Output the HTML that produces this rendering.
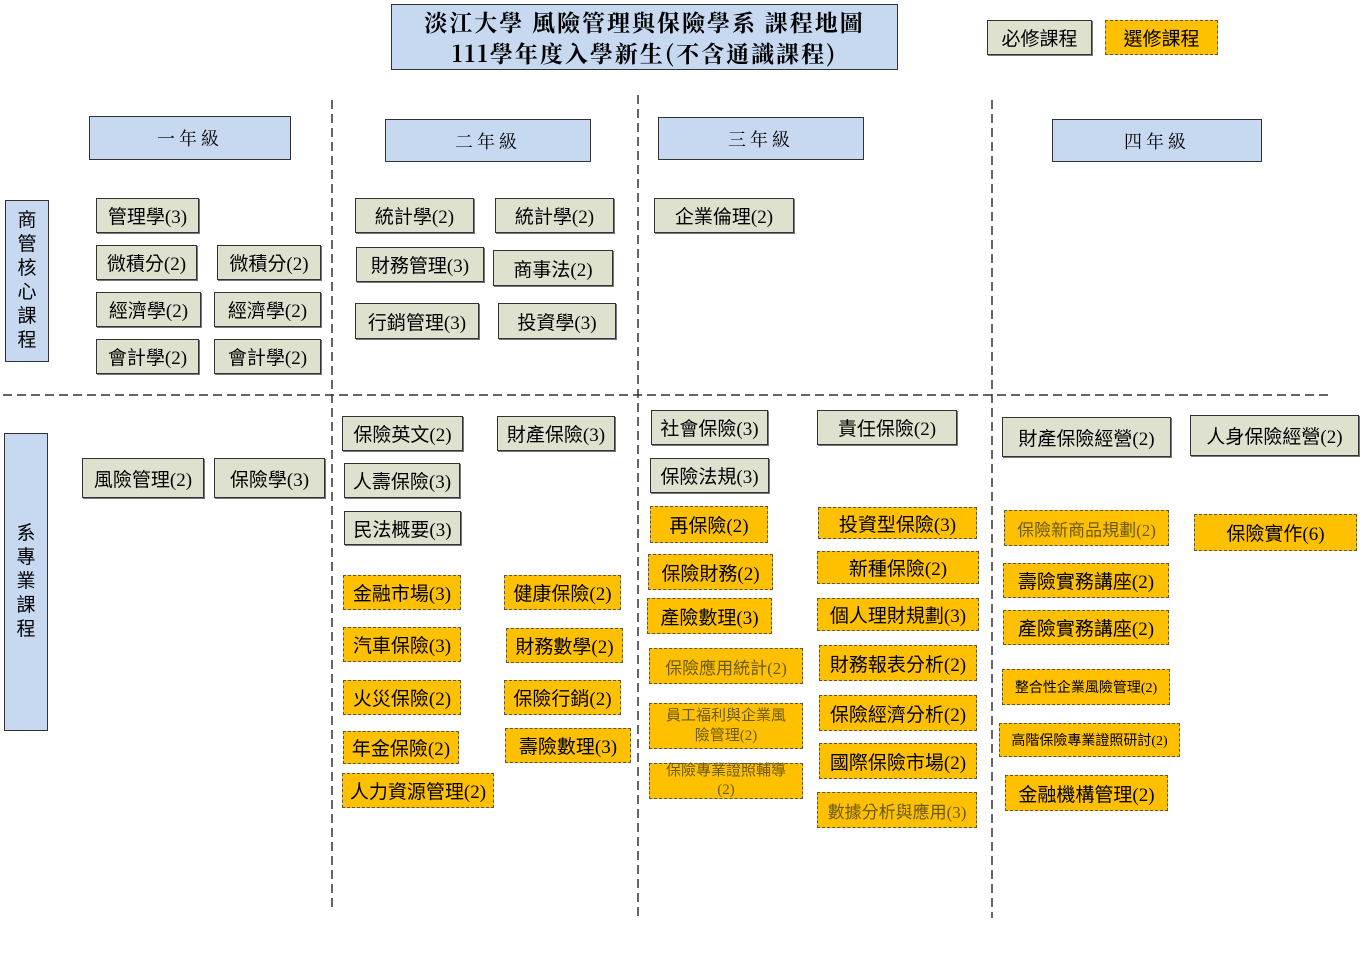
<!DOCTYPE html>
<html><head><meta charset="utf-8"><style>
body{margin:0;width:1362px;height:980px;background:#fff;position:relative;overflow:hidden;font-family:"Liberation Serif","Noto Sans CJK TC",serif;}
div{position:absolute;box-sizing:border-box;display:flex;align-items:center;justify-content:center;text-align:center;color:#000;white-space:nowrap;}
.r{background:#dfe1cf;border:1px solid #333;box-shadow:1px 1px 0 #777;font-size:19px;}
.e{background:#ffc000;border:1.5px dashed #555;font-size:19px;}
.m{color:#6b5a10;}
.h{background:#c6d9f1;border:1px solid #333;font-size:18px;letter-spacing:4px;font-family:"Noto Serif CJK SC","Liberation Serif",serif;}
.side{background:#c6d9f1;border:1px solid #333;white-space:normal;font-size:19px;line-height:24px;width:44px;padding:0 12px;}
svg{position:absolute;left:0;top:0;}
</style></head><body>
<svg width="1362" height="980"><g stroke="#333" stroke-width="1.5" stroke-dasharray="9,5" fill="none">
<line x1="332" y1="100" x2="332" y2="912"/>
<line x1="638" y1="95" x2="638" y2="918"/>
<line x1="992" y1="100" x2="992" y2="918"/>
<line x1="3" y1="395" x2="1330" y2="395"/>
</g></svg>
<div class="h" style="left:391px;top:4px;width:507px;height:66px;flex-direction:column;font-weight:bold;font-size:23px;letter-spacing:2px;line-height:31px;"><span>淡江大學 風險管理與保險學系 課程地圖</span><span>111學年度入學新生(不含通識課程)</span></div>
<div class="r" style="left:987px;top:20px;width:105px;height:35px;">必修課程</div>
<div class="e" style="left:1105px;top:20px;width:113px;height:35px;">選修課程</div>

<div class="h" style="left:89px;top:116px;width:202px;height:44px;">一年級</div>
<div class="h" style="left:385px;top:119px;width:206px;height:43px;">二年級</div>
<div class="h" style="left:658px;top:117px;width:206px;height:43px;">三年級</div>
<div class="h" style="left:1052px;top:119px;width:210px;height:43px;">四年級</div>

<div class="side" style="left:5px;top:200px;height:162px;">商管核心課程</div>
<div class="side" style="left:4px;top:433px;height:298px;">系專業課程</div>

<div class="r" style="left:96px;top:198px;width:103px;height:35px;">管理學(3)</div>
<div class="r" style="left:96px;top:245px;width:101px;height:35px;">微積分(2)</div>
<div class="r" style="left:217px;top:245px;width:104px;height:35px;">微積分(2)</div>
<div class="r" style="left:96px;top:292px;width:105px;height:35px;">經濟學(2)</div>
<div class="r" style="left:214px;top:292px;width:107px;height:35px;">經濟學(2)</div>
<div class="r" style="left:96px;top:339px;width:103px;height:35px;">會計學(2)</div>
<div class="r" style="left:214px;top:339px;width:107px;height:35px;">會計學(2)</div>
<div class="r" style="left:355px;top:198px;width:119px;height:35px;">統計學(2)</div>
<div class="r" style="left:495px;top:198px;width:119px;height:35px;">統計學(2)</div>
<div class="r" style="left:356px;top:247px;width:128px;height:35px;">財務管理(3)</div>
<div class="r" style="left:493px;top:250px;width:120px;height:36px;">商事法(2)</div>
<div class="r" style="left:355px;top:303px;width:124px;height:36px;">行銷管理(3)</div>
<div class="r" style="left:498px;top:303px;width:118px;height:36px;">投資學(3)</div>
<div class="r" style="left:654px;top:198px;width:140px;height:35px;">企業倫理(2)</div>

<div class="r" style="left:82px;top:458px;width:122px;height:40px;">風險管理(2)</div>
<div class="r" style="left:214px;top:458px;width:111px;height:40px;">保險學(3)</div>
<div class="r" style="left:342px;top:416px;width:121px;height:35px;">保險英文(2)</div>
<div class="r" style="left:497px;top:416px;width:118px;height:35px;">財產保險(3)</div>
<div class="r" style="left:344px;top:463px;width:116px;height:35px;">人壽保險(3)</div>
<div class="r" style="left:344px;top:511px;width:117px;height:34px;">民法概要(3)</div>
<div class="r" style="left:651px;top:410px;width:117px;height:35px;">社會保險(3)</div>
<div class="r" style="left:817px;top:410px;width:140px;height:35px;">責任保險(2)</div>
<div class="r" style="left:650px;top:458px;width:119px;height:35px;">保險法規(3)</div>
<div class="r" style="left:1002px;top:417px;width:169px;height:40px;">財產保險經營(2)</div>
<div class="r" style="left:1190px;top:415px;width:169px;height:41px;">人身保險經營(2)</div>

<div class="e" style="left:343px;top:575px;width:118px;height:35px;">金融市場(3)</div>
<div class="e" style="left:504px;top:575px;width:117px;height:35px;">健康保險(2)</div>
<div class="e" style="left:343px;top:627px;width:118px;height:35px;">汽車保險(3)</div>
<div class="e" style="left:506px;top:628px;width:117px;height:35px;">財務數學(2)</div>
<div class="e" style="left:343px;top:680px;width:118px;height:35px;">火災保險(2)</div>
<div class="e" style="left:504px;top:680px;width:117px;height:35px;">保險行銷(2)</div>
<div class="e" style="left:343px;top:731px;width:116px;height:33px;">年金保險(2)</div>
<div class="e" style="left:505px;top:728px;width:126px;height:35px;">壽險數理(3)</div>
<div class="e" style="left:342px;top:773px;width:152px;height:35px;">人力資源管理(2)</div>

<div class="e" style="left:650px;top:506px;width:118px;height:37px;">再保險(2)</div>
<div class="e" style="left:648px;top:554px;width:125px;height:36px;">保險財務(2)</div>
<div class="e" style="left:647px;top:598px;width:125px;height:36px;">產險數理(3)</div>
<div class="e m" style="left:649px;top:648px;width:154px;height:36px;font-size:17px;">保險應用統計(2)</div>
<div class="e m" style="left:649px;top:703px;width:154px;height:46px;font-size:15px;line-height:20px;flex-direction:column;"><span>員工福利與企業風</span><span>險管理(2)</span></div>
<div class="e m" style="left:649px;top:763px;width:154px;height:36px;font-size:15px;line-height:19px;flex-direction:column;"><span>保險專業證照輔導</span><span>(2)</span></div>
<div class="e" style="left:818px;top:507px;width:159px;height:32px;">投資型保險(3)</div>
<div class="e" style="left:817px;top:551px;width:162px;height:33px;">新種保險(2)</div>
<div class="e" style="left:817px;top:598px;width:162px;height:33px;">個人理財規劃(3)</div>
<div class="e" style="left:819px;top:645px;width:158px;height:36px;">財務報表分析(2)</div>
<div class="e" style="left:819px;top:695px;width:158px;height:36px;">保險經濟分析(2)</div>
<div class="e" style="left:819px;top:743px;width:158px;height:36px;">國際保險市場(2)</div>
<div class="e m" style="left:817px;top:792px;width:160px;height:36px;font-size:17px;">數據分析與應用(3)</div>

<div class="e m" style="left:1004px;top:510px;width:165px;height:36px;font-size:17px;">保險新商品規劃(2)</div>
<div class="e" style="left:1194px;top:514px;width:163px;height:37px;">保險實作(6)</div>
<div class="e" style="left:1003px;top:563px;width:166px;height:35px;">壽險實務講座(2)</div>
<div class="e" style="left:1003px;top:610px;width:166px;height:35px;">產險實務講座(2)</div>
<div class="e" style="left:1002px;top:669px;width:168px;height:36px;font-size:14px;">整合性企業風險管理(2)</div>
<div class="e" style="left:999px;top:723px;width:181px;height:34px;font-size:14px;">高階保險專業證照研討(2)</div>
<div class="e" style="left:1005px;top:775px;width:163px;height:36px;">金融機構管理(2)</div>
</body></html>
